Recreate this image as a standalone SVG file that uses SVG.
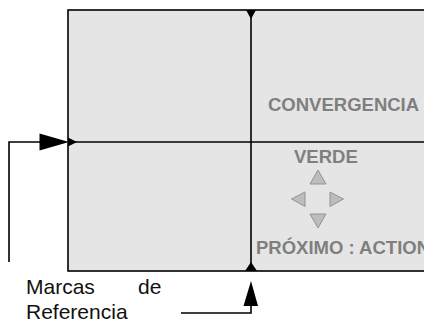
<svg xmlns="http://www.w3.org/2000/svg" width="424" height="320" viewBox="0 0 424 320">
<defs>
<style>
.frame{fill:#e5e5e5;stroke:#000;stroke-width:1.6}
.ln{stroke:#000;stroke-width:1.6;fill:none}
.mk{fill:#000}
.gt{font-family:"Liberation Sans",Arial,sans-serif;font-weight:bold;font-size:18.5px;fill:#7f7f7f}
.bt{font-family:"Liberation Sans",Arial,sans-serif;font-size:21px;fill:#111}
.tri{fill:#bdbdbd;stroke:#939393;stroke-width:1}
</style>
</defs>
<g id="screen">
<rect class="frame" x="68" y="10" width="370" height="261"/>
<line class="ln" x1="251" y1="10" x2="251" y2="271"/>
<line class="ln" x1="68" y1="142" x2="424" y2="142"/>
<polygon class="mk" points="246,10 256,10 251,19"/>
<polygon class="mk" points="245,271 257,271 251,262"/>
<polygon class="mk" points="68,137.5 68,146.5 77,142"/>
</g>
<g id="labels">
<text class="gt" x="268" y="111">CONVERGENCIA</text>
<text class="gt" x="294" y="163">VERDE</text>
<text class="gt" x="256" y="254">PRÓXIMO : ACTION</text>
</g>
<g id="nav">
<polygon class="tri" points="318,170 310,184 326,184"/>
<polygon class="tri" points="291.5,199 305,192 305,206.5"/>
<polygon class="tri" points="343.5,199 330,192 330,206.5"/>
<polygon class="tri" points="318,228 310,214 326,214"/>
</g>
<g id="caption">
<text class="bt" x="26" y="294">Marcas</text>
<text class="bt" x="138" y="294">de</text>
<text class="bt" x="26" y="319">Referencia</text>
</g>
<g id="connectors">
<polyline class="ln" points="9,262 9,142 42,142"/>
<polygon class="mk" points="39.5,133.5 69,142 39.5,150.5"/>
<polyline class="ln" points="181,313 251,313 251,304"/>
<polygon class="mk" points="251,281 243.5,306 258,306"/>
</g>
</svg>
